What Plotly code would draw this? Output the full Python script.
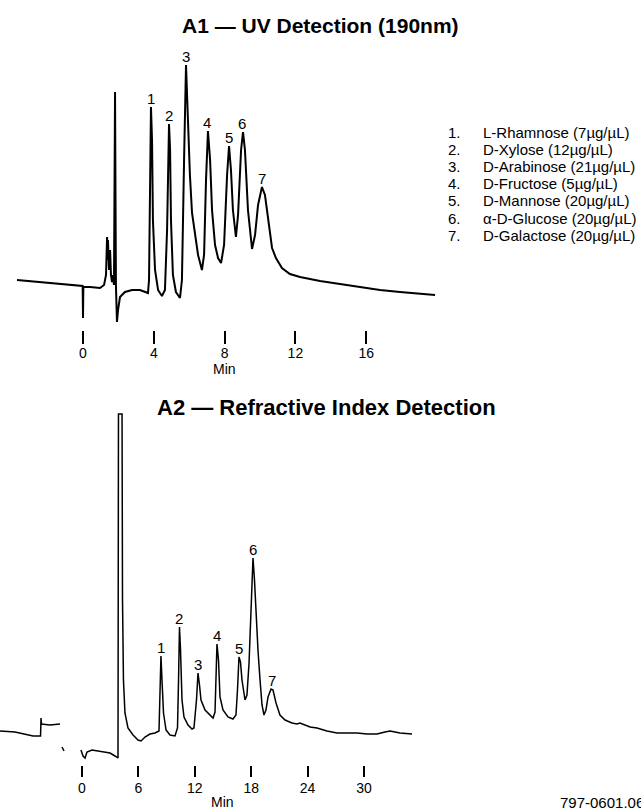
import plotly.graph_objects as go

W, H = 641, 810
FONT = "Liberation Sans, Arial, Helvetica, sans-serif"

# ---------------- A1 : UV detection (190 nm) ----------------
uv_time = [-3.73, -2.43, -1.30, -0.17, -0.02, 0.0, 0.02, 0.40, 0.96, 1.19,
           1.30, 1.36, 1.38, 1.41, 1.47, 1.53, 1.58, 1.64, 1.69, 1.75,
           1.81, 1.86, 1.92, 1.98, 2.09, 2.37, 2.77, 3.22, 3.56, 3.67,
           3.73, 3.79, 3.84, 3.90, 3.95, 4.07, 4.24, 4.46, 4.63, 4.75,
           4.80, 4.86, 4.92, 4.97, 5.08, 5.25, 5.48, 5.59, 5.71, 5.82,
           5.93, 6.04, 6.16, 6.33, 6.50, 6.72, 6.84, 6.95, 7.06, 7.18,
           7.29, 7.46, 7.63, 7.80, 7.97, 8.14, 8.25, 8.36, 8.47, 8.64,
           8.76, 8.93, 9.04, 9.15, 9.32, 9.55, 9.72, 9.89, 10.11, 10.28,
           10.45, 10.68, 10.90, 11.24, 11.69, 12.26, 13.39, 14.52, 15.65, 16.78,
           17.91, 19.04, 19.89]
uv_signal = [50, 48, 46, 44, 44, 12, 43, 43, 42, 45,
             55, 93, 70, 90, 60, 80, 55, 48, 55, 45,
             238, 45, 8, 20, 33, 38, 40, 40, 38, 37,
             50, 130, 223, 190, 110, 60, 40, 34, 40, 100,
             160, 206, 180, 110, 55, 38, 32, 50, 170, 265,
             210, 155, 117, 95, 75, 60, 75, 150, 199, 170,
             120, 85, 72, 67, 85, 155, 184, 160, 120, 93,
             115, 180, 198, 180, 120, 81, 95, 125, 143, 135,
             110, 82, 72, 62, 56, 53, 49, 46, 43, 40,
             38, 36, 35]
uv_peak_time = [3.84, 4.86, 5.82, 7.00, 8.25, 9.01, 10.14]
uv_peak_height = [223, 206, 265, 199, 184, 198, 143]
uv_ticks = [0, 4, 8, 12, 16]

# ---------------- A2 : Refractive index detection ----------------
ri_pre_time = [-8.72, -7.13, -5.21, -4.41, -4.36, -4.31, -3.40, -2.34]
ri_pre_signal = [34, 33, 29, 29, 47, 41, 40, 41]
ri_mark_time = [-2.13, -1.91]
ri_mark_signal = [18, 14]
ri_time = [-0.11, 0.11, 0.32, 0.53, 1.06, 1.91, 2.98, 3.51, 3.83, 3.88,
           4.26, 4.31, 4.41, 4.57, 4.89, 5.43, 5.96, 6.28, 6.70, 7.23,
           7.77, 8.19, 8.30, 8.40, 8.51, 8.67, 8.94, 9.36, 9.89, 10.16,
           10.27, 10.37, 10.48, 10.64, 10.85, 11.28, 11.70, 11.91, 12.18, 12.34,
           12.50, 12.66, 13.09, 13.62, 13.94, 14.15, 14.26, 14.36, 14.52, 14.68,
           15.00, 15.53, 16.06, 16.38, 16.54, 16.70, 16.86, 17.02, 17.34, 17.55,
           17.77, 17.98, 18.19, 18.35, 18.51, 18.72, 18.94, 19.15, 19.36, 19.57,
           19.79, 20.11, 20.32, 20.64, 21.06, 21.60, 22.34, 22.87, 23.19, 24.26,
           25.00, 26.06, 27.13, 28.19, 29.26, 30.32, 31.38, 32.23, 32.77, 33.30,
           33.83, 35.11]
ri_signal = [15, 9, 7, 13, 15, 14, 12, 9, 7, 351,
             351, 165, 85, 52, 37, 30, 25, 24, 28, 31,
             32, 34, 65, 109, 85, 52, 35, 30, 29, 37,
             85, 138, 115, 65, 48, 40, 36, 37, 65, 92,
             80, 65, 55, 50, 47, 53, 95, 121, 105, 68,
             55, 48, 46, 50, 75, 108, 103, 85, 65, 70,
             102, 165, 207, 185, 152, 115, 85, 60, 50, 55,
             68, 76, 75, 62, 50, 45, 42, 41, 42, 38,
             37, 34, 32, 32, 32, 31, 31, 33, 34, 33,
             32, 31]
ri_peak_time = [8.40, 10.37, 12.34, 14.36, 16.70, 18.19, 20.2]
ri_peak_height = [109, 138, 92, 121, 108, 207, 76]
ri_ticks = [0, 6, 12, 18, 24, 30]

peak_names = ["L-Rhamnose", "D-Xylose", "D-Arabinose", "D-Fructose",
              "D-Mannose", "α-D-Glucose", "D-Galactose"]
peak_conc = ["7µg/µL", "12µg/µL", "21µg/µL", "5µg/µL",
             "20µg/µL", "20µg/µL", "20µg/µL"]

title_a1 = "A1 — UV Detection (190nm)"
title_a2 = "A2 — Refractive Index Detection"
x_title = "Min"
figure_code = "797-0601.06"

assert len(uv_time) == len(uv_signal)
assert len(ri_time) == len(ri_signal)


def px_x(p):
    return p / W


def px_y(p):
    return 1 - p / H


fig = go.Figure()
line_top = dict(color="black", width=2.0)
line_bot = dict(color="black", width=1.5)

fig.add_trace(go.Scatter(x=uv_time, y=uv_signal, mode="lines", line=line_top,
                         xaxis="x", yaxis="y", showlegend=False))
for tx, sy in [(ri_pre_time, ri_pre_signal), (ri_mark_time, ri_mark_signal),
               (ri_time, ri_signal)]:
    fig.add_trace(go.Scatter(x=tx, y=sy, mode="lines", line=line_bot,
                             xaxis="x2", yaxis="y2", showlegend=False))

ann = []
for i, (t, h) in enumerate(zip(uv_peak_time, uv_peak_height)):
    ann.append(dict(x=t, y=h, xref="x", yref="y", text=str(i + 1), showarrow=False,
                    yanchor="middle", yshift=9, font=dict(size=15)))
for i, (t, h) in enumerate(zip(ri_peak_time, ri_peak_height)):
    ann.append(dict(x=t, y=h, xref="x2", yref="y2", text=str(i + 1), showarrow=False,
                    yanchor="middle", yshift=9, font=dict(size=15)))

# compound list
for i, (n, c) in enumerate(zip(peak_names, peak_conc)):
    yy = px_y(132 + 17.2 * i)
    ann.append(dict(x=px_x(446), y=yy, xref="paper", yref="paper", text=f"{i + 1}.",
                    showarrow=False, xanchor="left", yanchor="middle", font=dict(size=15)))
    ann.append(dict(x=px_x(481), y=yy, xref="paper", yref="paper", text=f"{n} ({c})",
                    showarrow=False, xanchor="left", yanchor="middle", font=dict(size=15)))

ann.append(dict(x=px_x(320), y=px_y(25), xref="paper", yref="paper", text=f"<b>{title_a1}</b>",
                showarrow=False, xanchor="center", yanchor="middle", font=dict(size=21)))
ann.append(dict(x=px_x(326), y=px_y(408), xref="paper", yref="paper", text=f"<b>{title_a2}</b>",
                showarrow=False, xanchor="center", yanchor="middle", font=dict(size=22)))
ann.append(dict(x=px_x(225), y=px_y(369), xref="paper", yref="paper", text=x_title,
                showarrow=False, xanchor="center", yanchor="middle", font=dict(size=14)))
ann.append(dict(x=px_x(222), y=px_y(802), xref="paper", yref="paper", text=x_title,
                showarrow=False, xanchor="center", yanchor="middle", font=dict(size=14)))
ann.append(dict(x=px_x(558), y=px_y(802), xref="paper", yref="paper", text=figure_code,
                showarrow=False, xanchor="left", yanchor="middle", font=dict(size=15)))

x0_top, ppm_top = 83, 17.7
x0_bot, ppm_bot = 82, 9.4
axis_common = dict(showgrid=False, zeroline=False, showline=False, ticks="outside",
                   tickcolor="black", tickwidth=2, tickfont=dict(size=14, color="black"),
                   fixedrange=True)

fig.update_layout(
    width=W, height=H, margin=dict(l=0, r=0, t=0, b=0),
    paper_bgcolor="white", plot_bgcolor="white",
    font=dict(family=FONT, color="black"),
    xaxis=dict(domain=[px_x(10), px_x(440)],
               range=[(10 - x0_top) / ppm_top, (440 - x0_top) / ppm_top],
               tickvals=uv_ticks, ticklen=13, ticklabelstandoff=-3, anchor="y", **axis_common),
    yaxis=dict(domain=[px_y(330), px_y(60)], range=[0, 270], visible=False, anchor="x"),
    xaxis2=dict(domain=[px_x(0), px_x(420)],
                range=[(0 - x0_bot) / ppm_bot, (420 - x0_bot) / ppm_bot],
                tickvals=ri_ticks, ticklen=11, ticklabelstandoff=-1, anchor="y2", **axis_common),
    yaxis2=dict(domain=[px_y(765), px_y(400)], range=[0, 365], visible=False, anchor="x2"),
    annotations=ann,
)

fig.write_html("out.html", config={"displayModeBar": False},
               post_script="document.body.style.margin='0';document.body.style.overflow='hidden';")
